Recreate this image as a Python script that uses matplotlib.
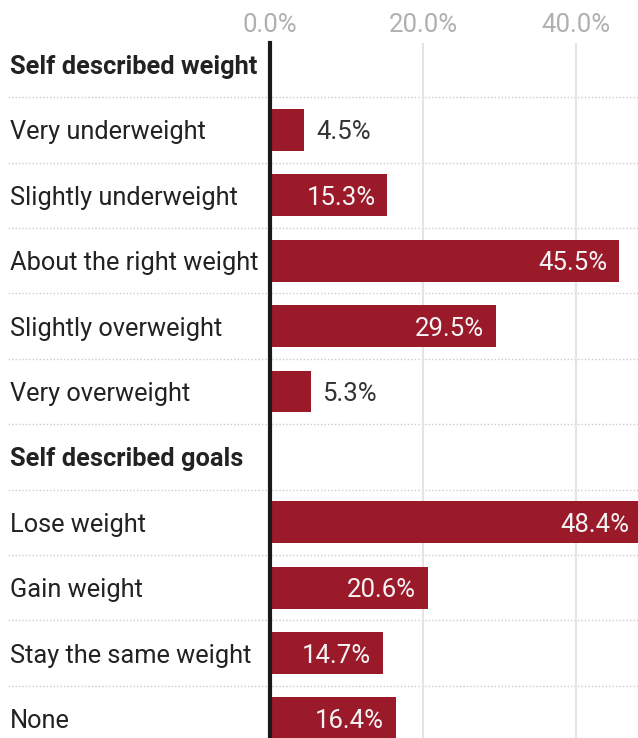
import matplotlib.pyplot as plt
from matplotlib import transforms

plt.rcParams['font.family'] = ['Roboto', 'DejaVu Sans']

# rows top to bottom; None marks a section heading
labels = ["Self described weight", "Very underweight", "Slightly underweight",
          "About the right weight", "Slightly overweight", "Very overweight",
          "Self described goals", "Lose weight", "Gain weight",
          "Stay the same weight", "None"]
values = [None, 4.5, 15.3, 45.5, 29.5, 5.3, None, 48.4, 20.6, 14.7, 16.4]
ticks = [0, 20, 40]
tick_labels = ["0.0%", "20.0%", "40.0%"]

W, H = 638, 738
fig = plt.figure(figsize=(W / 100, H / 100), dpi=100)
ax = fig.add_axes([270 / W, 0, (W - 270) / W, (738 - 43) / H])

red = "#9b1a2a"
for i, (lab, v) in enumerate(zip(labels, values)):
    if v is None:
        continue
    ax.barh(i, v, height=0.64, color=red, zorder=3)
    if v > 10:
        ax.text(v - 1.5, i, f"{v:.1f}%", ha="right", va="center_baseline",
                color="#f4f4f4", fontsize=18.5, zorder=4)
    else:
        ax.text(v + 1.5, i, f"{v:.1f}%", ha="left", va="center_baseline",
                color="#333333", fontsize=18.5, zorder=4)

# row labels on the left, in figure x / data y
trans = transforms.blended_transform_factory(fig.transFigure, ax.transData)
for i, (lab, v) in enumerate(zip(labels, values)):
    ax.text(10 / W, i, lab, transform=trans, ha="left", va="center_baseline",
            fontsize=18.3, color="#222222",
            fontweight="bold" if v is None else "normal", clip_on=False)

# dotted separators between rows
for i in range(len(labels) - 1):
    ax.plot([8 / W, 1], [i + 0.5, i + 0.5], transform=trans, color="#cccccc",
            lw=1, ls=(0, (1, 1.5)), clip_on=False, zorder=1)

ax.set_xlim(0, (W - 270) / 7.66)
ax.set_ylim(10.3, -0.33)
ax.set_xticks(ticks)
ax.set_xticklabels(tick_labels)
ax.xaxis.tick_top()
ax.tick_params(axis="x", length=0, labelsize=18.5, labelcolor="#b0b0b0", pad=4)
ax.set_yticks([])
ax.grid(axis="x", color="#e4e4e4", lw=1.5, zorder=0)
for s in ["top", "right", "bottom"]:
    ax.spines[s].set_visible(False)
ax.spines["left"].set_color("#1a1a1a")
ax.spines["left"].set_linewidth(3)
ax.spines["left"].set_zorder(5)

fig.savefig("out.png", dpi=100)
